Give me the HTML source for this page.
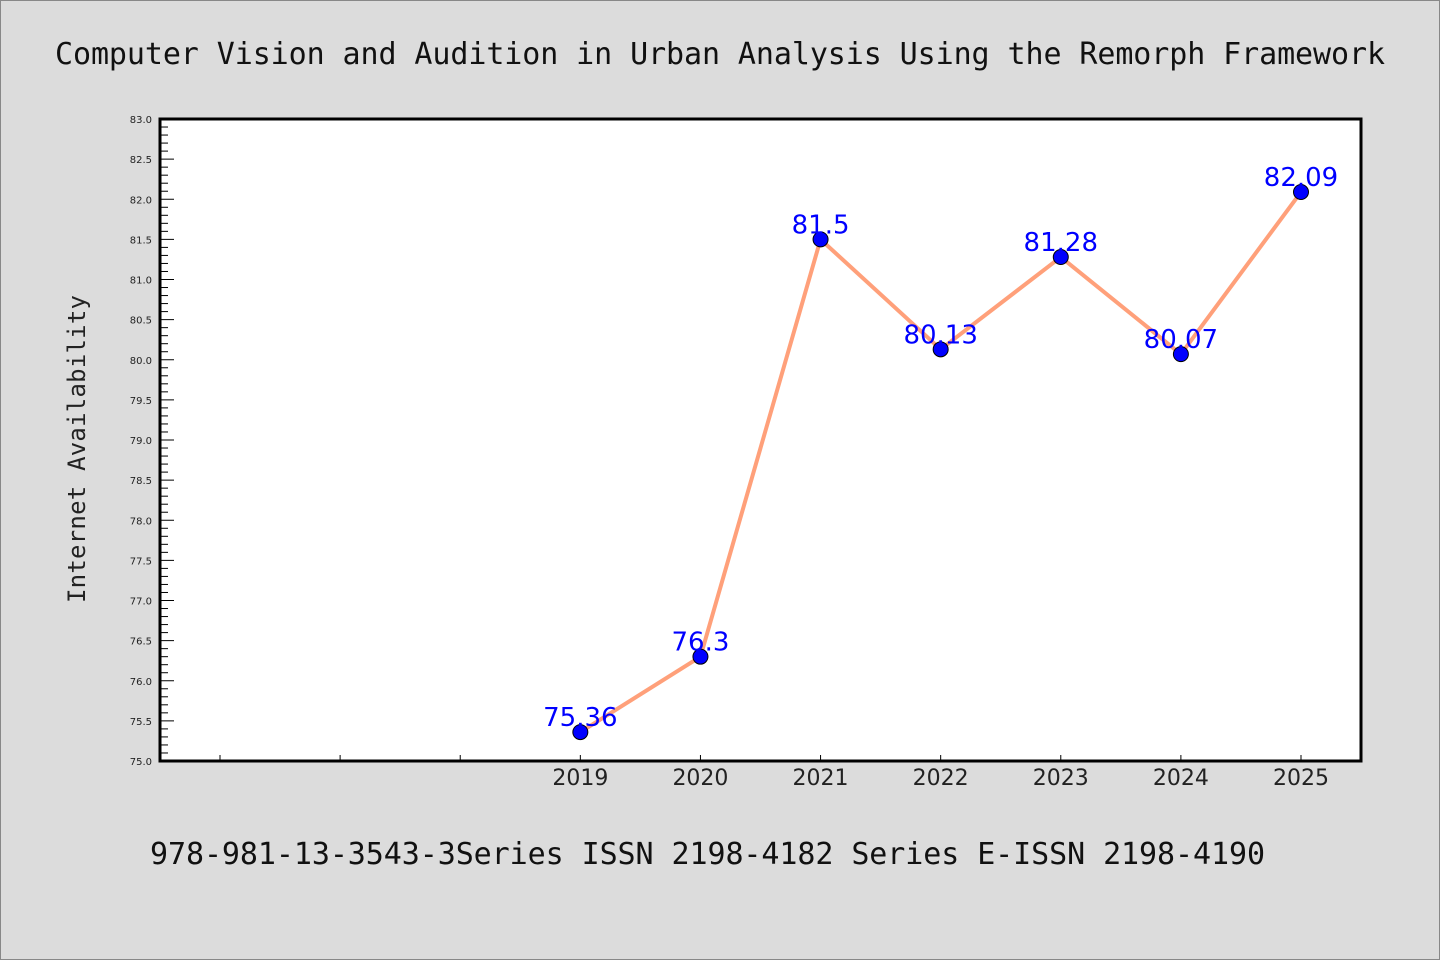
<!DOCTYPE html>
<html><head><meta charset="utf-8"><style>body{margin:0;background:#dcdcdc}svg{display:block}</style></head>
<body>
<svg id="chart" width="1440" height="960" xmlns="http://www.w3.org/2000/svg">
<rect x="0.5" y="0.5" width="1439" height="959" fill="#dcdcdc" stroke="#888"/>
<text x="720" y="64" text-anchor="middle" font-family="DejaVu Sans Mono, Liberation Mono, monospace" font-size="30" textLength="1330" fill="#111">Computer Vision and Audition in Urban Analysis Using the Remorph Framework</text>
<rect x="160" y="119" width="1201" height="642" fill="#fff" stroke="#000" stroke-width="3"/>
<g id="axes"></g>
<g id="series"></g>
<text transform="translate(85,449) rotate(-90)" text-anchor="middle" font-family="DejaVu Sans Mono, Liberation Mono, monospace" font-size="24" textLength="308" fill="#222">Internet Availability</text>
<text x="150" y="864" font-family="DejaVu Sans Mono, Liberation Mono, monospace" font-size="30" textLength="1115" fill="#111">978-981-13-3543-3Series ISSN 2198-4182 Series E-ISSN 2198-4190</text>
</svg>
<script>
const categories = ["", "", "", "2019", "2020", "2021", "2022", "2023", "2024", "2025"];
const values = [null, null, null, 75.36, 76.3, 81.5, 80.13, 81.28, 80.07, 82.09];
const valueLabels = ["", "", "", "75.36", "76.3", "81.5", "80.13", "81.28", "80.07", "82.09"];
const yTicks = [75.0, 75.5, 76.0, 76.5, 77.0, 77.5, 78.0, 78.5, 79.0, 79.5, 80.0, 80.5, 81.0, 81.5, 82.0, 82.5, 83.0];

const NS = "http://www.w3.org/2000/svg";
const L = 160, R = 1361, T = 119, B = 761, yMin = 75, yMax = 83;
const xS = i => L + 60 + i * (R - L - 120) / (categories.length - 1);
const yS = v => B - (v - yMin) / (yMax - yMin) * (B - T);
function mk(tag, attrs, parent) { const e = document.createElementNS(NS, tag); for (const k in attrs) e.setAttribute(k, attrs[k]); parent.appendChild(e); return e; }
const axes = document.getElementById('axes'), series = document.getElementById('series');

// minor y ticks
for (let k = 0; k <= 80; k++) {
  const v = yMin + k * 0.1, y = yS(v);
  const major = k % 5 === 0;
  const t = mk('line', {x1: L, x2: L + (major ? 14 : 8), y1: y, y2: y, stroke: '#000', 'stroke-width': 1}, axes);
  
  
}
yTicks.forEach(v => {
  const t = mk('text', {x: L - 8, y: yS(v) + 4, 'text-anchor': 'end', 'font-family': 'DejaVu Sans, Liberation Sans, sans-serif', 'font-size': 10, fill: '#222'}, axes);
  t.textContent = v.toFixed(1);
  
  
});
categories.forEach((c, i) => {
  const x = xS(i);
  const t = mk('line', {x1: x, x2: x, y1: B, y2: B - 6, stroke: '#000', 'stroke-width': 1}, axes);
  
  
  if (c) {
    const lb = mk('text', {x: x, y: B + 24, 'text-anchor': 'middle', 'font-family': 'DejaVu Sans, Liberation Sans, sans-serif', 'font-size': 22, fill: '#222'}, axes);
    lb.textContent = c;
    
    
  }
});
const pts = [];
values.forEach((v, i) => { if (v !== null) pts.push([xS(i), yS(v), i]); });
const line = mk('polyline', {points: pts.map(p => p[0] + ',' + p[1]).join(' '), fill: 'none', stroke: '#ffa07a', 'stroke-width': 4, 'stroke-linejoin': 'round'}, series);


pts.forEach(p => {
  const c = mk('circle', {cx: p[0], cy: p[1], r: 7.5, fill: '#0000ff', stroke: '#000', 'stroke-width': 1}, series);
  
  
});
pts.forEach(p => {
  const t = mk('text', {x: p[0], y: p[1] - 6, 'text-anchor': 'middle', 'font-family': 'DejaVu Sans, Liberation Sans, sans-serif', 'font-size': 26, fill: '#0000ff'}, series);
  t.textContent = valueLabels[p[2]];
  
  
});
</script>
</body></html>
